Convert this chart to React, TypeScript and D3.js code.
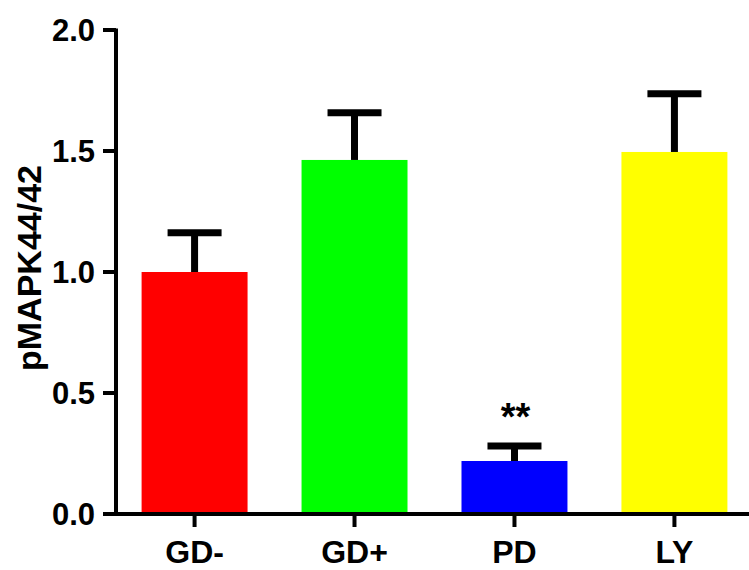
import React, { useEffect, useRef } from 'react';
import * as d3 from 'd3';

const groups = ['GD-', 'GD+', 'PD', 'LY'];
const means = [1.0, 1.463, 0.219, 1.496];
const errors = [0.162, 0.195, 0.062, 0.241];
const colors = ['#ff0000', '#00ff00', '#0000ff', '#ffff00'];
const marks = ['', '', '**', ''];
const yTicks = [0, 0.5, 1.0, 1.5, 2.0];

const W = 749;
const H = 570;

const App = () => {
  const svgRef = useRef<SVGSVGElement>(null);

  useEffect(() => {
    if (!svgRef.current) return;
    const svg = d3.select(svgRef.current);
    svg.selectAll('*').remove();

    const font = '"Liberation Sans", Arial, sans-serif';
    const x0 = 116;
    const yScale = d3.scaleLinear().domain([0, 2]).range([514, 30]);
    const xScale = d3.scaleBand<string>().domain(groups).range([x0, 753]).paddingInner(0.3375).paddingOuter(0.16);
    const bw = xScale.bandwidth();

    // bars
    svg.selectAll('.bar').data(groups).join('rect')
      .attr('class', 'bar')
      .attr('x', d => xScale(d)!)
      .attr('y', (d, i) => yScale(means[i]))
      .attr('width', bw)
      .attr('height', (d, i) => yScale(0) - yScale(means[i]))
      .attr('fill', (d, i) => colors[i]);

    // error bars (upper only)
    const eb = svg.selectAll('.err').data(groups).join('g').attr('class', 'err');
    eb.append('line')
      .attr('x1', d => xScale(d)! + bw / 2).attr('x2', d => xScale(d)! + bw / 2)
      .attr('y1', (d, i) => yScale(means[i])).attr('y2', (d, i) => yScale(means[i] + errors[i]))
      .attr('stroke', '#000').attr('stroke-width', 7);
    eb.append('line')
      .attr('x1', d => xScale(d)! + bw / 2 - 27).attr('x2', d => xScale(d)! + bw / 2 + 27)
      .attr('y1', (d, i) => yScale(means[i] + errors[i])).attr('y2', (d, i) => yScale(means[i] + errors[i]))
      .attr('stroke', '#000').attr('stroke-width', 7);

    // significance marks
    svg.selectAll('.sig').data(groups).join('text')
      .attr('class', 'sig')
      .attr('x', d => xScale(d)! + bw / 2 + 1)
      .attr('y', (d, i) => yScale(means[i] + errors[i]) - 16)
      .attr('text-anchor', 'middle')
      .attr('font-family', font).attr('font-weight', 'bold').attr('font-size', 38)
      .text((d, i) => marks[i]);

    // y axis
    const yAxis = svg.append('g');
    yAxis.append('line').attr('x1', x0).attr('x2', x0).attr('y1', yScale(2) - 1.5).attr('y2', yScale(0))
      .attr('stroke', '#000').attr('stroke-width', 4);
    yAxis.selectAll('.yt').data(yTicks).join('line')
      .attr('x1', x0 - 13).attr('x2', x0).attr('y1', d => yScale(d)).attr('y2', d => yScale(d))
      .attr('stroke', '#000').attr('stroke-width', 4);
    yAxis.selectAll('.yl').data(yTicks).join('text')
      .attr('x', x0 - 21).attr('y', d => yScale(d)).attr('dy', '0.34em')
      .attr('text-anchor', 'end')
      .attr('font-family', font).attr('font-weight', 'bold').attr('font-size', 31)
      .text(d => d.toFixed(1));

    // x axis
    const xAxis = svg.append('g');
    xAxis.append('line').attr('x1', x0 - 13).attr('x2', W).attr('y1', yScale(0)).attr('y2', yScale(0))
      .attr('stroke', '#000').attr('stroke-width', 4);
    xAxis.selectAll('.xt').data(groups).join('line')
      .attr('x1', d => xScale(d)! + bw / 2).attr('x2', d => xScale(d)! + bw / 2)
      .attr('y1', yScale(0)).attr('y2', yScale(0) + 13)
      .attr('stroke', '#000').attr('stroke-width', 4);
    xAxis.selectAll('.xl').data(groups).join('text')
      .attr('x', d => xScale(d)! + bw / 2).attr('y', 563)
      .attr('text-anchor', 'middle')
      .attr('font-family', font).attr('font-weight', 'bold').attr('font-size', 32)
      .text(d => d);

    // y label
    svg.append('text')
      .attr('transform', `translate(41, 268) rotate(-90)`)
      .attr('text-anchor', 'middle')
      .attr('font-family', font).attr('font-weight', 'bold').attr('font-size', 34)
      .text('pMAPK44/42');
  }, []);

  return (
    <svg ref={svgRef} width={W} height={H} viewBox={`0 0 ${W} ${H}`}
      style={{ position: 'absolute', left: 0, top: 0, display: 'block', background: '#fff' }} />
  );
};

export default App;
